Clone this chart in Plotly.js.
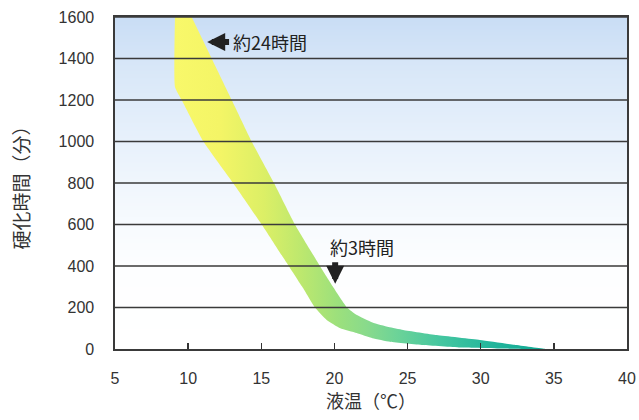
<!DOCTYPE html>
<html>
<head>
<meta charset="utf-8">
<script src="https://cdn.plot.ly/plotly-3.0.1.min.js"></script>
<style>html,body{margin:0;padding:0;background:#fff;}#chart{width:639px;height:420px;}</style>
</head>
<body>
<div id="chart"></div>
<script>
// Upper (long-time) edge of the curing band: temperature (°C) and curing time (min)
const upperTemp = [10.24, 11.61, 12.98, 14.34, 15.87, 17.30, 19.01, 19.9, 20.86, 21.5, 22.6, 23.7, 24.7, 27.0, 29.95, 32.3, 34.4];
const upperTime = [1600, 1400, 1200, 1000, 800, 600, 400, 300, 200, 165, 128, 106, 92, 67, 43, 20, 0];
// Lower (short-time) edge of the curing band
const lowerTemp = [9.10, 9.10, 9.56, 11.04, 13.07, 15.03, 16.83, 17.8, 18.67, 19.47, 20.4, 21.52, 22.6, 23.8, 26.05, 28.6, 31.5, 34.4];
const lowerTime = [1600, 1263, 1200, 1000, 800, 600, 405, 300, 200, 140, 100, 77, 52, 35, 19, 7, 2, 0];
// Axis ticks
const xTicks = [5, 10, 15, 20, 25, 30, 35, 40];
const yTicks = [0, 200, 400, 600, 800, 1000, 1200, 1400, 1600];
// Text
const xTitle = '液温（℃）';
const yTitle = '硬化時間（分）';
const note24 = '約24時間';
const note3 = '約3時間';

// closed polygon: upper edge top→bottom, then lower edge bottom→top
const bandX = upperTemp.concat(lowerTemp.slice().reverse());
const bandY = upperTime.concat(lowerTime.slice().reverse());

const xMin = xTicks[0], xMax = xTicks[xTicks.length - 1];
const yMax = yTicks[yTicks.length - 1];

const background = {
  type: 'heatmap',
  x: [xMin, xMax],
  y: [0, yMax],
  z: [[0, 0], [1, 1]],
  zsmooth: 'best',
  showscale: false,
  hoverinfo: 'skip',
  colorscale: [[0, '#ffffff'], [0.25, '#fdfeff'], [0.45, '#f3f8fd'], [0.65, '#e6f0fb'], [0.85, '#d8e7f8'], [1, '#c9ddf5']],
  zmin: 0, zmax: 1
};

const band = {
  type: 'scatter',
  mode: 'lines',
  x: bandX,
  y: bandY,
  fill: 'toself',
  line: {width: 0, shape: 'spline', smoothing: 0.4},
  hoverinfo: 'skip',
  fillgradient: {
    type: 'horizontal',
    start: 9.1,
    stop: 34.4,
    colorscale: [
      [0.0, '#f8f86a'],
      [0.12, '#f4f566'],
      [0.24, '#dcef66'],
      [0.34, '#bde86e'],
      [0.44, '#9ce07c'],
      [0.52, '#88da8c'],
      [0.6, '#6cd398'],
      [0.72, '#44c6a0'],
      [0.85, '#24b69c'],
      [1.0, '#10a893']
    ]
  },
  showlegend: false
};

const gridShapes = yTicks.filter(v => v > 0).map(v => ({
  type: 'line', xref: 'paper', yref: 'y', x0: 0, x1: 1, y0: v, y1: v,
  line: {color: '#3a3a3a', width: 1.6}, layer: 'above'
}));

const arrowStyle = {showarrow: true, arrowhead: 2, arrowsize: 0.6, arrowwidth: 6, arrowcolor: '#222', standoff: 0, startstandoff: 0, text: ''};

const layout = {
  width: 639, height: 420,
  margin: {l: 115, r: 12, t: 17, b: 71},
  paper_bgcolor: '#ffffff',
  plot_bgcolor: 'rgba(0,0,0,0)',
  showlegend: false,
  font: {family: '"Liberation Sans", Arial, sans-serif', color: '#333'},
  xaxis: {
    range: [xMin, xMax],
    tickvals: xTicks,
    ticks: 'inside', ticklen: 6, tickwidth: 1.5, tickcolor: '#333',
    ticklabelstandoff: 14,
    tickfont: {size: 16, color: '#333'},
    showgrid: false, zeroline: false,
    showline: true, mirror: true, linecolor: '#3a3a3a', linewidth: 1.6,
    layer: 'above traces',
    title: {text: xTitle, font: {family: '"Noto Sans CJK JP", sans-serif', size: 18, color: '#333'}, standoff: 4}
  },
  yaxis: {
    range: [0, yMax],
    tickvals: yTicks,
    ticks: '',
    ticklabelstandoff: 16,
    tickfont: {size: 16, color: '#333'},
    showgrid: false, zeroline: false,
    showline: true, mirror: true, linecolor: '#3a3a3a', linewidth: 1.6,
    layer: 'above traces',
    title: {text: yTitle, font: {family: '"Noto Sans CJK JP", sans-serif', size: 19, color: '#333'}, standoff: 24}
  },
  shapes: gridShapes,
  annotations: [
    Object.assign({x: 11.3, y: 1480, ax: 12.9, ay: 1480, xref: 'x', yref: 'y', axref: 'x', ayref: 'y'}, arrowStyle),
    {x: 12.95, y: 1480, xref: 'x', yref: 'y', text: note24, showarrow: false, xanchor: 'left',
     font: {family: '"Noto Sans CJK JP", sans-serif', size: 18, color: '#222'}},
    {x: 21.9, y: 492, xref: 'x', yref: 'y', text: note3, showarrow: false,
     font: {family: '"Noto Sans CJK JP", sans-serif', size: 18, color: '#222'}},
    Object.assign({x: 20.05, y: 315, ax: 20.05, ay: 425, xref: 'x', yref: 'y', axref: 'x', ayref: 'y'}, arrowStyle)
  ]
};

Plotly.newPlot('chart', [background, band], layout, {staticPlot: true, displayModeBar: false});
</script>
</body>
</html>
